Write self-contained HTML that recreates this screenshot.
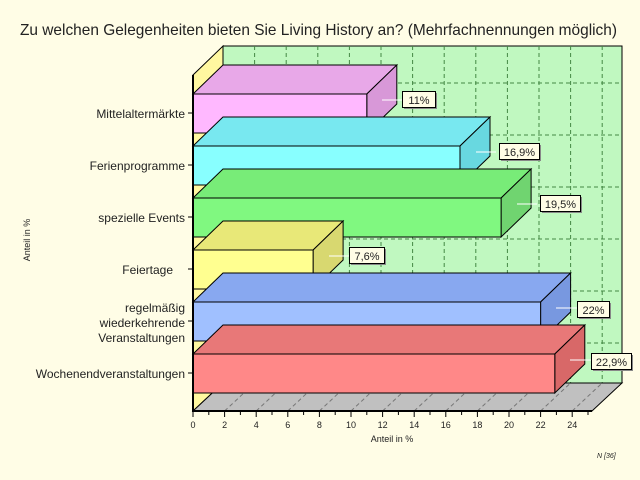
<!DOCTYPE html>
<html><head><meta charset="utf-8"><style>body{margin:0;background:#fffde6}svg{display:block}text{font-family:"Liberation Sans",sans-serif;fill:#222}</style></head><body>
<svg width="640" height="480" viewBox="0 0 640 480" xmlns="http://www.w3.org/2000/svg">
<rect width="640" height="480" fill="#fffde6"/>
<text x="20" y="35" font-size="16" textLength="597" lengthAdjust="spacingAndGlyphs">Zu welchen Gelegenheiten bieten Sie Living History an? (Mehrfachnennungen möglich)</text>
<rect x="223" y="46" width="399" height="337" fill="#c0f8c0" stroke="#000" stroke-width="1"/>
<g stroke="#448844" stroke-dasharray="4,3" stroke-width="1">
<line x1="254.6" y1="46" x2="254.6" y2="383"/><line x1="286.2" y1="46" x2="286.2" y2="383"/><line x1="317.8" y1="46" x2="317.8" y2="383"/><line x1="349.4" y1="46" x2="349.4" y2="383"/><line x1="381" y1="46" x2="381" y2="383"/><line x1="412.6" y1="46" x2="412.6" y2="383"/><line x1="444.2" y1="46" x2="444.2" y2="383"/><line x1="475.8" y1="46" x2="475.8" y2="383"/><line x1="507.4" y1="46" x2="507.4" y2="383"/><line x1="539" y1="46" x2="539" y2="383"/><line x1="570.6" y1="46" x2="570.6" y2="383"/><line x1="602.2" y1="46" x2="602.2" y2="383"/>
<line x1="223" y1="83" x2="622" y2="83"/><line x1="223" y1="135" x2="622" y2="135"/><line x1="223" y1="187" x2="622" y2="187"/><line x1="223" y1="239" x2="622" y2="239"/><line x1="223" y1="291" x2="622" y2="291"/><line x1="223" y1="343" x2="622" y2="343"/>
</g>
<polygon points="193,75 223,46 223,383 193,411" fill="#fff8a0" stroke="#000"/>
<polygon points="193,411 592,411 622,383 223,383" fill="#c0c0c0" stroke="#000"/>
<g stroke="#777" stroke-dasharray="4,3">
<line x1="224.6" y1="411" x2="254.6" y2="383"/><line x1="256.2" y1="411" x2="286.2" y2="383"/><line x1="287.8" y1="411" x2="317.8" y2="383"/><line x1="319.4" y1="411" x2="349.4" y2="383"/><line x1="351" y1="411" x2="381" y2="383"/><line x1="382.6" y1="411" x2="412.6" y2="383"/><line x1="414.2" y1="411" x2="444.2" y2="383"/><line x1="445.8" y1="411" x2="475.8" y2="383"/><line x1="477.4" y1="411" x2="507.4" y2="383"/><line x1="509" y1="411" x2="539" y2="383"/><line x1="540.6" y1="411" x2="570.6" y2="383"/><line x1="572.2" y1="411" x2="602.2" y2="383"/>
</g>
<g stroke="#000" stroke-width="1">
<polygon points="193,94 223,65 396.8,65 366.8,94" fill="#e8a8e8"/>
<polygon points="366.8,94 396.8,65 396.8,104 366.8,133" fill="#d898d8"/>
<rect x="193" y="94" width="173.8" height="39" fill="#ffb8ff"/>
<polygon points="193,146 223,117 490,117 460,146" fill="#78e8f0"/>
<polygon points="460,146 490,117 490,156 460,185" fill="#68d8e0"/>
<rect x="193" y="146" width="267" height="39" fill="#88ffff"/>
<polygon points="193,198 223,169 531.1,169 501.1,198" fill="#78ec78"/>
<polygon points="501.1,198 531.1,169 531.1,208 501.1,237" fill="#70d470"/>
<rect x="193" y="198" width="308.1" height="39" fill="#80f880"/>
<polygon points="193,250 223,221 343.1,221 313.1,250" fill="#e8e878"/>
<polygon points="313.1,250 343.1,221 343.1,260 313.1,289" fill="#d8d870"/>
<rect x="193" y="250" width="120.1" height="39" fill="#ffff90"/>
<polygon points="193,302 223,273 570.6,273 540.6,302" fill="#88a8f0"/>
<polygon points="540.6,302 570.6,273 570.6,312 540.6,341" fill="#7898e0"/>
<rect x="193" y="302" width="347.6" height="39" fill="#a0c0ff"/>
<polygon points="193,354 223,325 584.8,325 554.8,354" fill="#e87878"/>
<polygon points="554.8,354 584.8,325 584.8,364 554.8,393" fill="#d86868"/>
<rect x="193" y="354" width="361.8" height="39" fill="#ff8888"/>
</g>
<g font-size="11">
<g stroke="#fff"><line x1="382" y1="100" x2="402" y2="100"/><line x1="476" y1="152" x2="496" y2="152"/><line x1="517" y1="204" x2="537" y2="204"/><line x1="329" y1="256" x2="349" y2="256"/><line x1="556" y1="308" x2="577" y2="308"/><line x1="570" y1="360" x2="591" y2="360"/></g>
<g fill="#888"><rect x="404" y="93" width="33" height="16"/><rect x="501" y="145" width="40" height="16"/><rect x="542" y="197" width="40" height="16"/><rect x="351" y="249" width="35" height="16"/><rect x="579" y="303" width="32" height="16"/><rect x="593" y="355" width="40" height="16"/></g>
<g fill="#fffde6" stroke="#000"><rect x="402.5" y="91.5" width="33" height="16"/><rect x="499.5" y="143.5" width="40" height="16"/><rect x="540.5" y="195.5" width="40" height="16"/><rect x="349.5" y="247.5" width="35" height="16"/><rect x="577.5" y="301.5" width="32" height="16"/><rect x="591.5" y="353.5" width="40" height="16"/></g>
<text x="419" y="104" text-anchor="middle">11%</text><text x="519.5" y="156" text-anchor="middle">16,9%</text><text x="560.5" y="208" text-anchor="middle">19,5%</text><text x="367" y="260" text-anchor="middle">7,6%</text><text x="593.5" y="314" text-anchor="middle">22%</text><text x="611.5" y="366" text-anchor="middle">22,9%</text>
</g>
<g stroke="#000">
<line x1="193" y1="75" x2="193" y2="412" stroke-width="2"/>
<line x1="192" y1="411" x2="592" y2="411" stroke-width="2"/>
<g stroke-width="1">
<line x1="188" y1="113" x2="193" y2="113"/><line x1="188" y1="165" x2="193" y2="165"/><line x1="188" y1="217" x2="193" y2="217"/><line x1="188" y1="269" x2="193" y2="269"/><line x1="188" y1="321" x2="193" y2="321"/><line x1="188" y1="373" x2="193" y2="373"/>
</g>
<path stroke-width="1" d="M193,412v5M208.8,412v3M224.6,412v5M240.4,412v3M256.2,412v5M272,412v3M287.8,412v5M303.6,412v3M319.4,412v5M335.2,412v3M351,412v5M366.8,412v3M382.6,412v5M398.4,412v3M414.2,412v5M430,412v3M445.8,412v5M461.6,412v3M477.4,412v5M493.2,412v3M509,412v5M524.8,412v3M540.6,412v5M556.4,412v3M572.2,412v5M588,412v3"/>
</g>
<g font-size="9" text-anchor="middle">
<text x="193" y="428">0</text><text x="224.6" y="428">2</text><text x="256.2" y="428">4</text><text x="287.8" y="428">6</text><text x="319.4" y="428">8</text><text x="351" y="428">10</text><text x="382.6" y="428">12</text><text x="414.2" y="428">14</text><text x="445.8" y="428">16</text><text x="477.4" y="428">18</text><text x="509" y="428">20</text><text x="540.6" y="428">22</text><text x="572.2" y="428">24</text>
<text x="392" y="442">Anteil in %</text>
</g>
<text x="30" y="240" font-size="9" text-anchor="middle" transform="rotate(-90 30 240)">Anteil in %</text>
<text x="597" y="458" font-size="7" font-style="italic">N [36]</text>
<g font-size="12" text-anchor="end">
<text x="185" y="118">Mittelaltermärkte</text>
<text x="185" y="170">Ferienprogramme</text>
<text x="185" y="222">spezielle Events</text>
<text x="173" y="274">Feiertage</text>
<text x="185" y="312">regelmäßig</text>
<text x="185" y="327">wiederkehrende</text>
<text x="185" y="342">Veranstaltungen</text>
<text x="185" y="378">Wochenendveranstaltungen</text>
</g>
</svg>
</body></html>
